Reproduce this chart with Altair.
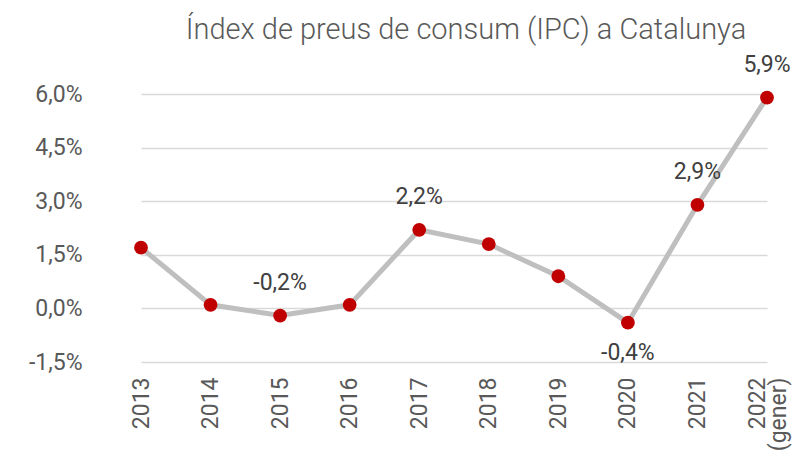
import altair as alt
import pandas as pd

years = ["2013", "2014", "2015", "2016", "2017", "2018", "2019", "2020", "2021", "2022|(gener)"]
ipc = [1.7, 0.1, -0.2, 0.1, 2.2, 1.8, 0.9, -0.4, 2.9, 5.9]
label_above = ["2015", "2017", "2021", "2022|(gener)"]
label_below = ["2020"]
y_ticks = [-1.5, 0.0, 1.5, 3.0, 4.5, 6.0]
title_text = "Índex de preus de consum (IPC) a Catalunya"

FONT = "Roboto"

df = pd.DataFrame({"any": years, "ipc": ipc})
df["pos"] = ["above" if y in label_above else ("below" if y in label_below else "none") for y in years]

fmt = "(datum.ipc < 0 ? '-' : '') + replace(format(abs(datum.ipc), '.1f'), '.', ',') + '%'"

x = alt.X("any:N", sort=years, title=None,
          scale=alt.Scale(type="point", range=[35, 661], padding=0),
          axis=alt.Axis(labelExpr="split(datum.label, '|')", labelAngle=-90, labelAlign="right",
                        labelBaseline="middle", labelPadding=15, domain=False, ticks=False,
                        grid=False, labelFontSize=23, labelColor="#595959", labelFont=FONT,
                        labelLineHeight=21,
                        labelOffset={"condition": {"test": "indexof(datum.value, '|') >= 0", "value": -10},
                                     "value": 0}))
y = alt.Y("ipc:Q", title=None,
          scale=alt.Scale(domain=[-1.5, 6.0], nice=False, zero=False),
          axis=alt.Axis(values=y_ticks, domain=False, ticks=False, grid=True, gridColor="#D9D9D9",
                        gridWidth=1.5, labelPadding=24, labelFontSize=23, labelColor="#595959",
                        labelFont=FONT,
                        labelExpr="(datum.value < 0 ? '-' : '') + replace(format(abs(datum.value), '.1f'), '.', ',') + '%'"))

base = alt.Chart(df).encode(x=x, y=y)

line = base.mark_line(color="#BFBFBF", strokeWidth=5)
pts = base.mark_circle(color="#C00000", size=190, opacity=1)
txt_above = base.transform_filter("datum.pos == 'above'").transform_calculate(lab=fmt).mark_text(
    dy=-33, fontSize=23, color="#404040", font=FONT, baseline="middle").encode(text="lab:N")
txt_below = base.transform_filter("datum.pos == 'below'").transform_calculate(lab=fmt).mark_text(
    dy=30, fontSize=23, color="#404040", font=FONT, baseline="middle").encode(text="lab:N")

chart = alt.layer(line, pts, txt_above, txt_below).properties(
    width=686, height=268,
    title=alt.TitleParams(title_text, font=FONT, fontSize=29, fontWeight=300, color="#595959",
                          anchor="middle", dx=17, dy=30, offset=16, baseline="alphabetic"),
    autosize=alt.AutoSizeParams(type="none"),
    padding={"left": 98, "top": 86, "right": 0, "bottom": 92},
).configure_view(stroke=None)

chart.save("out.html", embed_options={"renderer": "svg", "actions": False})
